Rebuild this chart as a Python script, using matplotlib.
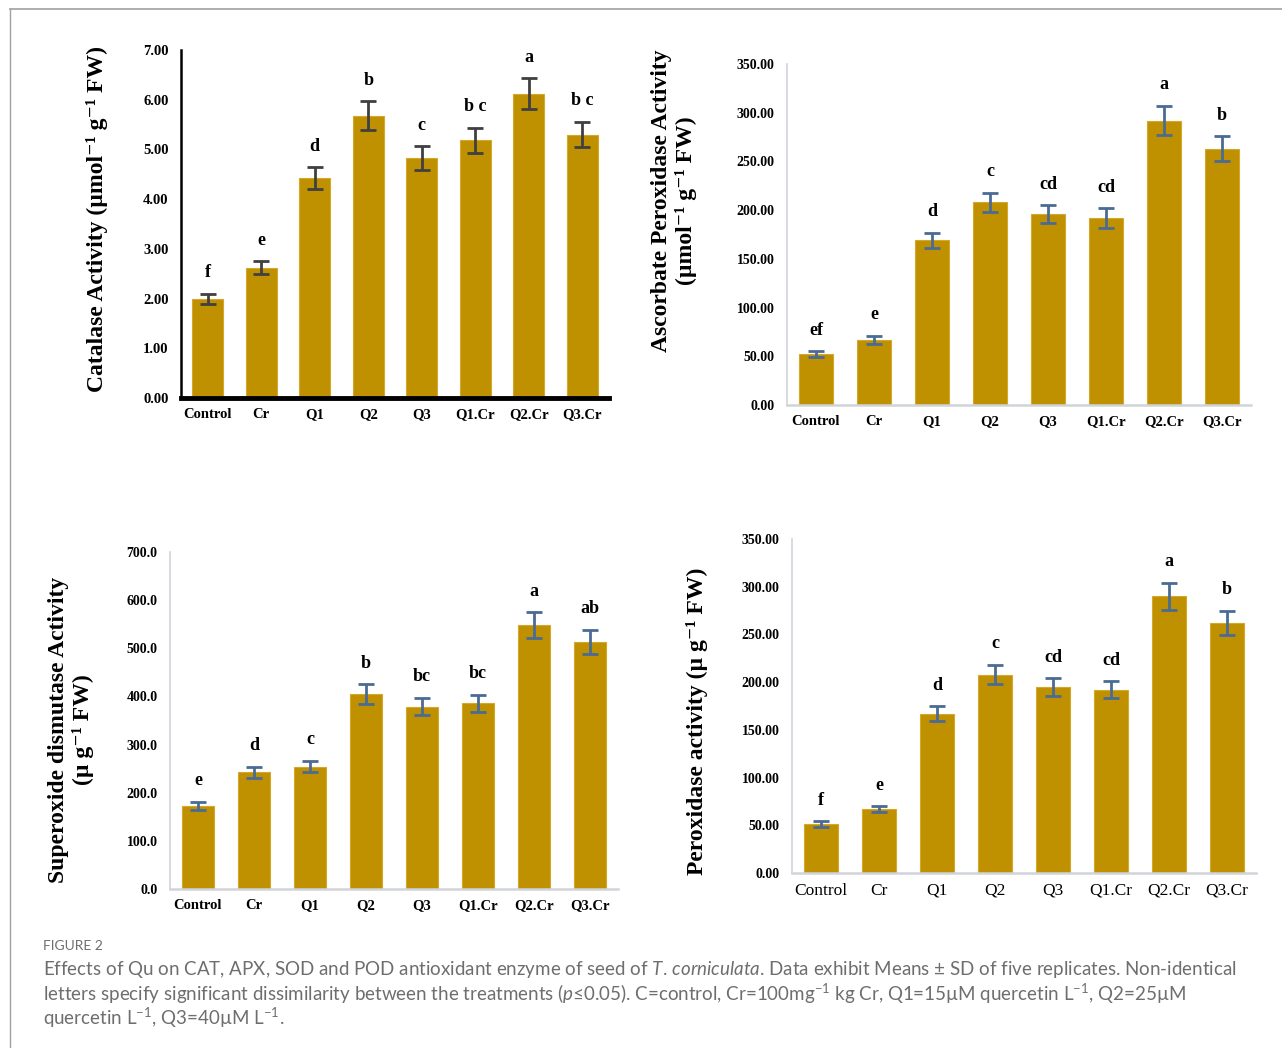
import matplotlib
matplotlib.use("Agg")
import matplotlib.pyplot as plt
from matplotlib.lines import Line2D

plt.rcParams["mathtext.fontset"] = "custom"
plt.rcParams["mathtext.rm"] = "Lato"
plt.rcParams["mathtext.it"] = "Lato:italic"
plt.rcParams["mathtext.bf"] = "Lato:bold"

categories = ["Control", "Cr", "Q1", "Q2", "Q3", "Q1.Cr", "Q2.Cr", "Q3.Cr"]

cat_mean = [2.00, 2.62, 4.42, 5.68, 4.82, 5.18, 6.12, 5.30]
cat_sd = [0.10, 0.13, 0.22, 0.29, 0.24, 0.26, 0.31, 0.26]
cat_letters = ["f", "e", "d", "b", "c", "b c", "a", "b c"]

apx_mean = [52, 67, 169, 208, 196, 192, 292, 263]
apx_sd = [3, 4, 8, 10, 9, 10, 15, 13]
apx_letters = ["ef", "e", "d", "c", "cd", "cd", "a", "b"]

sod_mean = [173, 242, 254, 405, 379, 386, 548, 513]
sod_sd = [8, 12, 12, 20, 18, 18, 27, 25]
sod_letters = ["e", "d", "c", "b", "bc", "bc", "a", "ab"]

pod_mean = [51, 67, 167, 208, 195, 192, 290, 262]
pod_sd = [3, 3, 8, 10, 9, 9, 14, 13]
pod_letters = ["f", "e", "d", "c", "cd", "cd", "a", "b"]

BAR = "#BF9000"
SERIF = ["Liberation Serif", "DejaVu Serif"]

W, H = 1282, 1048
fig = plt.figure(figsize=(W / 100, H / 100), dpi=100)


def axes_px(left, right, bottom, top):
    return fig.add_axes([left / W, 1 - bottom / H, (right - left) / W, (bottom - top) / H])


def panel(ax, means, sds, letters, ymax, step, fmt, ylabel, lab_xy, err_color,
          spine_color, spine_lw, bottom_lw, xbold=True, xsize=10.5, ysize=10, lab_size=17):
    x = range(len(categories))
    ax.bar(x, means, width=0.58, color=BAR, edgecolor="#D4A82A", linewidth=0.8, zorder=2)
    ax.errorbar(x, means, yerr=sds, fmt="none", ecolor=err_color, elinewidth=2,
                capsize=5.5, capthick=2, zorder=3)
    for xi, m, s, l in zip(x, means, sds, letters):
        ax.annotate(l, (xi, m + s), xytext=(0, 9), textcoords="offset points",
                    ha="center", va="bottom", fontsize=13, fontweight="bold", family=SERIF)
    ax.set_xlim(-0.5, len(categories) - 0.5)
    ax.set_ylim(0, ymax)
    ticks = [i * step for i in range(int(round(ymax / step)) + 1)]
    ax.set_yticks(ticks)
    ax.set_yticklabels([fmt.format(t) for t in ticks], fontsize=ysize, fontweight="bold", family=SERIF)
    ax.set_xticks(list(x))
    ax.set_xticklabels(categories, fontsize=xsize, fontweight="bold" if xbold else "normal",
                       family=SERIF)
    ax.tick_params(length=0, pad=9)
    ax.tick_params(axis="x", pad=7)
    for s in ["top", "right"]:
        ax.spines[s].set_visible(False)
    ax.spines["left"].set_color(spine_color)
    ax.spines["left"].set_linewidth(spine_lw)
    ax.spines["bottom"].set_color(spine_color)
    ax.spines["bottom"].set_linewidth(bottom_lw)
    ax.set_ylabel(ylabel, fontsize=lab_size, fontweight="bold", family=SERIF, linespacing=1.2,
                  va="center")
    ax.yaxis.set_label_coords(*lab_xy)


ax1 = axes_px(181, 609, 398, 50)
panel(ax1, cat_mean, cat_sd, cat_letters, 7, 1, "{:.2f}",
      "Catalase Activity (µmol⁻¹ g⁻¹ FW)", (-0.196, 0.514),
      "#404040", "black", 1.8, 3.5, ysize=10.5)

ax2 = axes_px(787, 1251, 405, 64)
panel(ax2, apx_mean, apx_sd, apx_letters, 350, 50, "{:.2f}",
      "Ascorbate Peroxidase Activity\n(µmol⁻¹ g⁻¹ FW)", (-0.244, 0.598),
      "#4A6B94", "#D0D4DA", 1.2, 1.8)

ax3 = axes_px(170, 618, 889, 552)
panel(ax3, sod_mean, sod_sd, sod_letters, 700, 100, "{:.1f}",
      "Superoxide dismutase Activity\n(µ g⁻¹ FW)", (-0.221, 0.472),
      "#4A6B94", "#D0D4DA", 1.2, 1.8)

ax4 = axes_px(792, 1256, 873, 539)
panel(ax4, pod_mean, pod_sd, pod_letters, 350, 50, "{:.2f}",
      "Peroxidase activity (µ g⁻¹ FW)", (-0.205, 0.455),
      "#4A6B94", "#D0D4DA", 1.2, 1.8, xbold=False, xsize=12.5)

# frame lines of the figure page
fig.add_artist(Line2D([10 / W, 1], [1 - 9 / H, 1 - 9 / H], color="#A0A0A0", lw=1.2,
                      transform=fig.transFigure))
fig.add_artist(Line2D([10 / W, 10 / W], [0, 1 - 9 / H], color="#A0A0A0", lw=1.0,
                      transform=fig.transFigure))

CAP = ["Lato", "DejaVu Sans"]
fig.text(43 / W, 1 - 946 / H, "FIGURE 2", fontsize=10, color="#6E6E6E", family=CAP,
         va="center", ha="left")
cap_lines = [
    "Effects of Qu on CAT, APX, SOD and POD antioxidant enzyme of seed of $\\it{T.\\,corniculata}$. "
    "Data exhibit Means ± SD of five replicates. Non-identical",
    "letters specify significant dissimilarity between the treatments ($\\it{p}$≤0.05). "
    "C=control, Cr=100mg$^{-1}$ kg Cr, Q1=15µM quercetin L$^{-1}$, Q2=25µM",
    "quercetin L$^{-1}$, Q3=40µM L$^{-1}$.",
]
for i, line in enumerate(cap_lines):
    fig.text(43 / W, 1 - (970 + i * 24) / H, line, fontsize=13.5, color="#6E6E6E",
             family=CAP, va="center", ha="left")

fig.savefig("out.png", dpi=100)
